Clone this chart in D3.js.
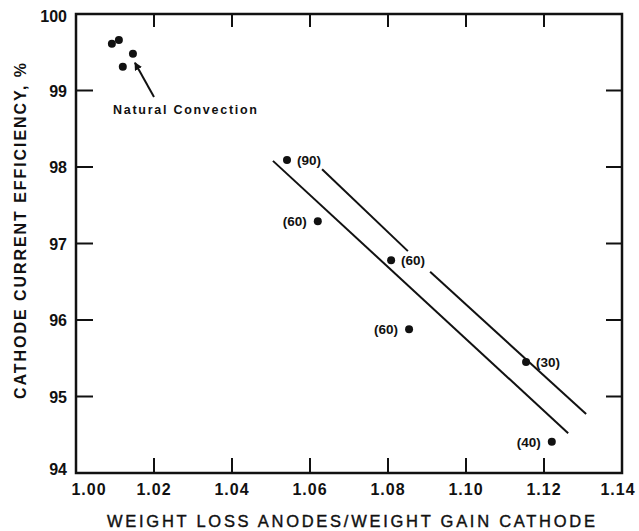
<!DOCTYPE html>
<html>
<head>
<meta charset="utf-8">
<script src="https://cdn.jsdelivr.net/npm/d3@7"></script>
<style>
  body { margin: 0; background: #fff; }
  text { font-family: "Liberation Sans", Arial, sans-serif; fill: #111; }
</style>
</head>
<body>
<div id="chart"></div>
<script>
// data
const xTicks = [1.00, 1.02, 1.04, 1.06, 1.08, 1.10, 1.12, 1.14];
const yTicks = [94, 95, 96, 97, 98, 99, 100];

const convectionX = [1.0092, 1.0110, 1.0120, 1.0146];
const convectionY = [99.61, 99.66, 99.31, 99.48];

const pointX = [1.0541, 1.0620, 1.0808, 1.0854, 1.1154, 1.1220];
const pointY = [98.09, 97.29, 96.78, 95.88, 95.45, 94.41];
const pointLabel = ["(90)", "(60)", "(60)", "(60)", "(30)", "(40)"];
const labelSide = ["right", "left", "right", "left", "right", "left"];

// fitted band lines (upper one broken around the label)
const lowerLine = [[1.0505, 98.08], [1.1262, 94.52]];
const upperLine = [
  [[1.0631, 97.97], [1.0851, 96.90]],
  [[1.0908, 96.63], [1.1308, 94.77]]
];

const width = 639, height = 531;
const margin = {left: 76, right: 16, top: 14, bottom: 58};

const svg = d3.select('#chart').append('svg')
  .attr('width', width)
  .attr('height', height);

const x = d3.scaleLinear().domain([1.00, 1.14]).range([margin.left, width - margin.right - 1]);
const y = d3.scaleLinear().domain([94, 100]).range([height - margin.bottom, margin.top]);

const g = svg.append('g');

// frame
g.append('rect')
  .attr('x', x(1.00))
  .attr('y', y(100))
  .attr('width', x(1.14) - x(1.00))
  .attr('height', y(94) - y(100))
  .attr('fill', 'none')
  .attr('stroke', '#111')
  .attr('stroke-width', 2.5);

// inner ticks on all four sides
const innerX = xTicks.slice(1, -1);
const innerY = yTicks.slice(1, -1);

g.selectAll('.xtb').data(innerX).join('line')
  .attr('x1', d => x(d)).attr('x2', d => x(d))
  .attr('y1', y(94)).attr('y2', y(94) - 15)
  .attr('stroke', '#111').attr('stroke-width', 2);
g.selectAll('.xtt').data(innerX).join('line')
  .attr('x1', d => x(d)).attr('x2', d => x(d))
  .attr('y1', y(100)).attr('y2', y(100) + 13)
  .attr('stroke', '#111').attr('stroke-width', 2);
g.selectAll('.ytl').data(innerY).join('line')
  .attr('x1', x(1.00)).attr('x2', x(1.00) + 17)
  .attr('y1', d => y(d)).attr('y2', d => y(d))
  .attr('stroke', '#111').attr('stroke-width', 2);
g.selectAll('.ytr').data(innerY).join('line')
  .attr('x1', x(1.14)).attr('x2', x(1.14) - 16)
  .attr('y1', d => y(d)).attr('y2', d => y(d))
  .attr('stroke', '#111').attr('stroke-width', 2);

// tick labels
g.selectAll('.xl').data(xTicks).join('text')
  .attr('x', d => x(d) + (d === 1.00 ? 13 : (d === 1.14 ? -4 : 0)))
  .attr('y', y(94) + 22)
  .attr('text-anchor', 'middle')
  .attr('font-size', 16)
  .attr('font-weight', 'bold')
  .attr('letter-spacing', 1)
  .text(d => d.toFixed(2));

g.selectAll('.yl').data(yTicks).join('text')
  .attr('x', x(1.00) - 9)
  .attr('y', d => y(d) + 6 - (d === 94 ? 4 : 0) + (d === 100 ? 2 : 0))
  .attr('text-anchor', 'end')
  .attr('font-size', 16)
  .attr('font-weight', 'bold')
  .text(d => d);

// axis titles
svg.append('text')
  .attr('x', 351)
  .attr('y', 527)
  .attr('text-anchor', 'middle')
  .attr('font-size', 16.5)
  .attr('stroke', '#111')
  .attr('stroke-width', 0.4)
  .attr('textLength', 488)
  .attr('lengthAdjust', 'spacing')
  .text('WEIGHT LOSS ANODES/WEIGHT GAIN CATHODE');

svg.append('text')
  .attr('transform', 'translate(26,231) rotate(-90)')
  .attr('text-anchor', 'middle')
  .attr('font-size', 16)
  .attr('font-weight', 'bold')
  .attr('textLength', 336)
  .attr('lengthAdjust', 'spacing')
  .text('CATHODE CURRENT EFFICIENCY, %');

// band lines
g.append('line')
  .attr('x1', x(lowerLine[0][0])).attr('y1', y(lowerLine[0][1]))
  .attr('x2', x(lowerLine[1][0])).attr('y2', y(lowerLine[1][1]))
  .attr('stroke', '#111').attr('stroke-width', 2);

g.selectAll('.up').data(upperLine).join('line')
  .attr('x1', d => x(d[0][0])).attr('y1', d => y(d[0][1]))
  .attr('x2', d => x(d[1][0])).attr('y2', d => y(d[1][1]))
  .attr('stroke', '#111').attr('stroke-width', 2);

// natural convection points
g.selectAll('.nc').data(convectionX).join('circle')
  .attr('cx', d => x(d))
  .attr('cy', (d, i) => y(convectionY[i]))
  .attr('r', 4)
  .attr('fill', '#111');

// arrow to natural convection cluster
svg.append('defs').append('marker')
  .attr('id', 'arrow')
  .attr('viewBox', '0 0 10 10')
  .attr('refX', 9).attr('refY', 5)
  .attr('markerWidth', 4).attr('markerHeight', 4)
  .attr('orient', 'auto')
  .append('path')
  .attr('d', 'M0,0 L10,5 L0,10 Z')
  .attr('fill', '#111');

g.append('line')
  .attr('x1', 154).attr('y1', 97)
  .attr('x2', x(convectionX[3]) + 2).attr('y2', y(convectionY[3]) + 9)
  .attr('stroke', '#111').attr('stroke-width', 2)
  .attr('marker-end', 'url(#arrow)');

g.append('text')
  .attr('x', 113)
  .attr('y', 114)
  .attr('font-size', 12.5)
  .attr('font-weight', 'bold')
  .attr('textLength', 144)
  .attr('lengthAdjust', 'spacing')
  .text('Natural Convection');

// duration points
g.selectAll('.pt').data(pointX).join('circle')
  .attr('cx', d => x(d))
  .attr('cy', (d, i) => y(pointY[i]))
  .attr('r', 4)
  .attr('fill', '#111');

g.selectAll('.pl').data(pointX).join('text')
  .attr('x', (d, i) => labelSide[i] === 'right' ? x(d) + 10 : x(d) - 11)
  .attr('y', (d, i) => y(pointY[i]) + 5)
  .attr('text-anchor', (d, i) => labelSide[i] === 'right' ? 'start' : 'end')
  .attr('font-size', 13.5)
  .attr('font-weight', 'bold')
  .text((d, i) => pointLabel[i]);
</script>
</body>
</html>
